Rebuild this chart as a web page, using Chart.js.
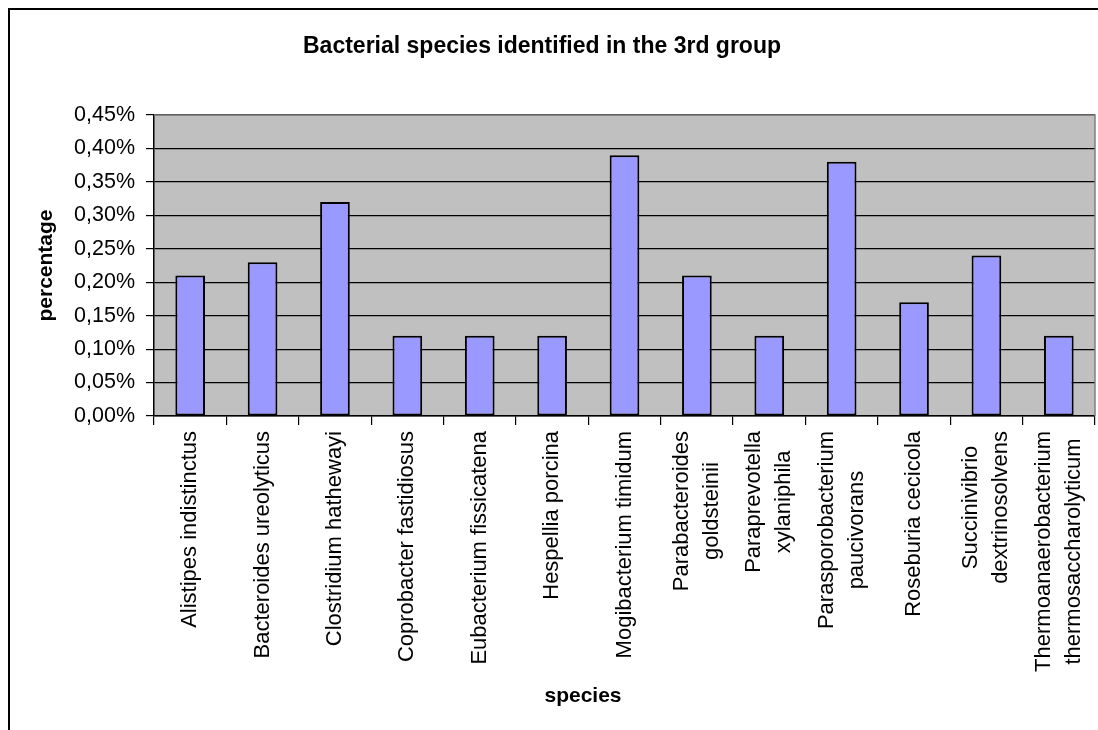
<!DOCTYPE html>
<html>
<head>
<meta charset="utf-8">
<title>Bacterial species identified in the 3rd group</title>
<script src="https://cdn.jsdelivr.net/npm/chart.js@4"></script>
<style>
  html, body { margin: 0; padding: 0; background: #ffffff; overflow: hidden; }
  #wrap { position: relative; width: 1098px; height: 730px; }
</style>
</head>
<body>
<div id="wrap"><canvas id="chart" width="1098" height="730"></canvas></div>
<script>
// Species (multi-word names split over two lines where the axis wraps them)
const categories = [
  "Alistipes indistinctus",
  "Bacteroides ureolyticus",
  "Clostridium hathewayi",
  "Coprobacter fastidiosus",
  "Eubacterium fissicatena",
  "Hespellia porcina",
  "Mogibacterium timidum",
  ["Parabacteroides", "goldsteinii"],
  ["Paraprevotella", "xylaniphila"],
  ["Parasporobacterium", "paucivorans"],
  "Roseburia cecicola",
  ["Succinivibrio", "dextrinosolvens"],
  ["Thermoanaerobacterium", "thermosaccharolyticum"]
];

// Share of reads per species, in percent
const percentages = [0.21, 0.23, 0.32, 0.12, 0.12, 0.12, 0.39, 0.21, 0.12, 0.38, 0.17, 0.24, 0.12];

// Value axis ticks, in percent
const yTicks = [0, 0.05, 0.10, 0.15, 0.20, 0.25, 0.30, 0.35, 0.40, 0.45];

const chartTitle = "Bacterial species identified in the 3rd group";
const xTitle = "species";
const yTitle = "percentage";

const FONT = '"Liberation Sans", Arial, "Helvetica Neue", sans-serif';

const fmtPercent = v => v.toFixed(2).replace('.', ',') + '%';

// Grey plot background, outer frame and free-standing texts
const decorations = {
  id: 'decorations',
  beforeDraw(chart) {
    const { ctx, chartArea: a } = chart;
    ctx.save();
    ctx.fillStyle = '#ffffff';
    ctx.fillRect(0, 0, chart.width, chart.height);
    ctx.fillStyle = '#C0C0C0';
    ctx.fillRect(a.left, a.top, a.right - a.left, a.bottom - a.top);
    ctx.restore();
  },
  afterDatasetsDraw(chart) {
    const { ctx, chartArea: a } = chart;
    ctx.save();
    // plot-area border on the top and right sides
    ctx.strokeStyle = '#808080';
    ctx.lineWidth = 1.5;
    ctx.beginPath();
    ctx.moveTo(a.left, a.top);
    ctx.lineTo(a.right, a.top);
    ctx.lineTo(a.right, a.bottom);
    ctx.stroke();
    ctx.restore();
  },
  afterDraw(chart) {
    const { ctx } = chart;
    const xScale = chart.scales.x;
    ctx.save();

    // outer chart frame
    ctx.strokeStyle = '#000000';
    ctx.lineWidth = 2;
    ctx.strokeRect(9, 9, 2000, 2000);

    ctx.fillStyle = '#000000';
    ctx.textAlign = 'center';
    ctx.textBaseline = 'middle';

    // chart title
    ctx.font = 'bold 23px ' + FONT;
    ctx.fillText(chartTitle, 542, 47);

    // axis titles
    ctx.font = 'bold 21px ' + FONT;
    ctx.fillText(xTitle, 583, 696);
    ctx.save();
    ctx.translate(46, (chart.chartArea.top + chart.chartArea.bottom) / 2);
    ctx.rotate(-Math.PI / 2);
    ctx.fillText(yTitle, 0, 0);
    ctx.restore();

    // category labels, vertical, lines centred on each other
    ctx.font = '22px ' + FONT;
    const labelTop = xScale.top + 15;
    const lineGap = 30;
    categories.forEach((cat, i) => {
      const lines = Array.isArray(cat) ? cat : [cat];
      const maxW = Math.max(...lines.map(l => ctx.measureText(l).width));
      const cx = xScale.getPixelForValue(i);
      lines.forEach((line, j) => {
        const off = (j - (lines.length - 1) / 2) * lineGap;
        ctx.save();
        ctx.translate(cx + off, labelTop + maxW / 2);
        ctx.rotate(-Math.PI / 2);
        ctx.fillText(line, 0, 0);
        ctx.restore();
      });
    });
    ctx.restore();
  }
};

new Chart(document.getElementById('chart'), {
  type: 'bar',
  data: {
    labels: categories,
    datasets: [{
      data: percentages,
      backgroundColor: '#9999FF',
      borderColor: '#000000',
      borderWidth: 2,
      borderSkipped: false,
      barPercentage: 0.41,
      categoryPercentage: 1.0
    }]
  },
  options: {
    responsive: false,
    animation: false,
    layout: { padding: { top: 115, right: 3, left: 0, bottom: 0 } },
    plugins: {
      legend: { display: false },
      title: { display: false },
      tooltip: { enabled: false }
    },
    scales: {
      x: {
        offset: true,
        grid: {
          offset: true,
          drawOnChartArea: false,
          drawTicks: true,
          tickLength: 9,
          color: '#000000',
          lineWidth: 1.2
        },
        border: { display: true, color: '#000000', width: 1.5 },
        ticks: { display: false },
        afterFit(scale) { scale.height = 314; }
      },
      y: {
        min: 0,
        max: 0.45,
        afterBuildTicks(scale) { scale.ticks = yTicks.map(v => ({ value: v })); },
        grid: {
          color: '#000000',
          lineWidth: 1.2,
          drawTicks: true,
          tickLength: 8
        },
        border: { display: true, color: '#000000', width: 1.5 },
        ticks: {
          padding: 11,
          color: '#000000',
          font: { family: FONT, size: 21.5 },
          callback: v => fmtPercent(v)
        },
        afterFit(scale) { scale.width = 154; }
      }
    }
  },
  plugins: [decorations]
});
</script>
</body>
</html>
